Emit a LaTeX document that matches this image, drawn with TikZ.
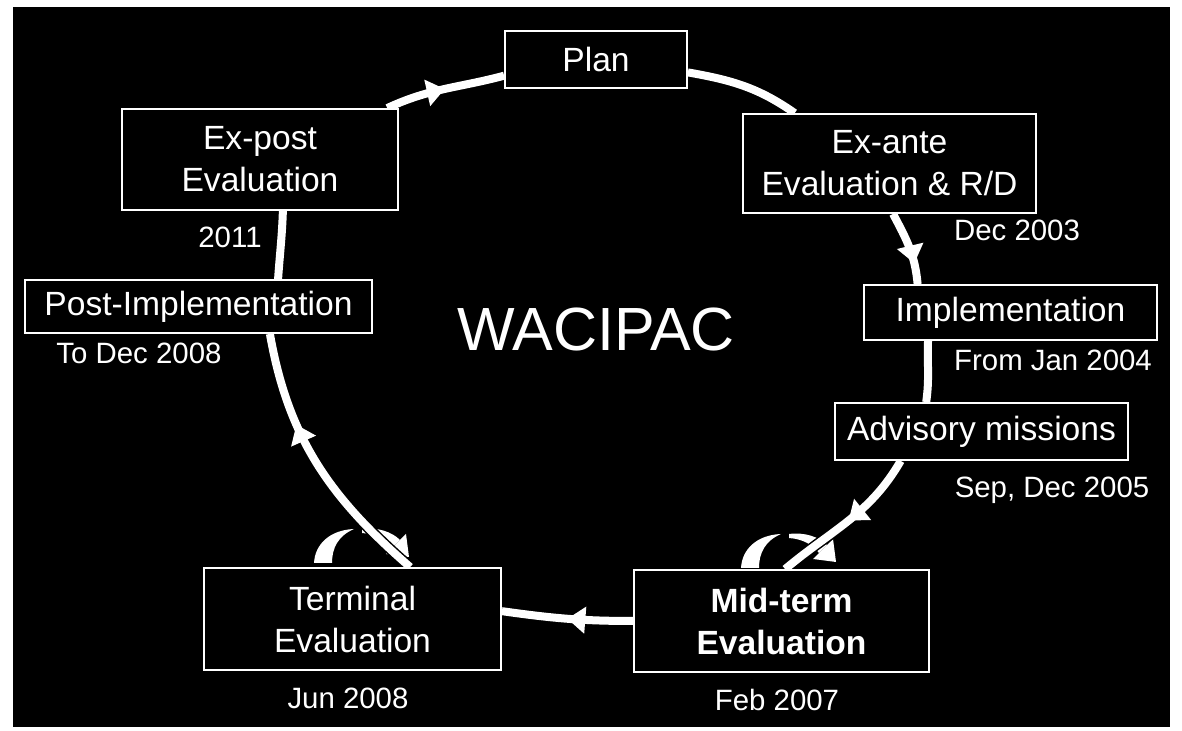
\documentclass[tikz,border=0pt]{standalone}
\usepackage{fontspec}
\setmainfont{Liberation Sans}
\usetikzlibrary{positioning, arrows.meta, decorations.markings}
\pgfdeclarelayer{back}
\pgfsetlayers{back,main}

\begin{document}
\begin{tikzpicture}[x=0.5pt, y=0.5pt,
      box/.style={draw=white, line width=0.9pt, fill=black, text=white,
                  align=center, inner sep=0pt,
                  font=\fontsize{16.8}{21}\selectfont},
      stamp/.style={text=white, inner sep=0pt,
                  font=\fontsize{14.7}{17}\selectfont},
      ring/.style={white, line width=4pt,
                  preaction={draw=black, line width=5.5pt}},
      tip at/.style={postaction={decorate}, decoration={markings,
                  mark=at position #1 with {\arrow{Triangle[length=9pt, width=13pt]}}}}]
    \useasboundingbox (0,0) rectangle (1182,731);

    % the stages
    \node[box, minimum width=91pt, minimum height=28.5pt]    (plan)   at (596,671.5)  {Plan};
    \node[box, minimum width=146.5pt, minimum height=49.5pt] (exante) at (889.5,567.5) {Ex-ante\\Evaluation \& R/D};
    \node[box, minimum width=146.5pt, minimum height=27.5pt] (impl)   at (1010.5,418.5) {Implementation};
    \node[box, minimum width=146.5pt, minimum height=28.5pt] (adv)    at (981.5,299.5) {Advisory missions};
    \node[box, minimum width=147.5pt, minimum height=51pt,
          font=\fontsize{16.8}{21}\selectfont\bfseries]      (mid)    at (781.5,110)  {Mid-term\\Evaluation};
    \node[box, minimum width=148.5pt, minimum height=51pt]   (term)   at (352.5,112)  {Terminal\\Evaluation};
    \node[box, minimum width=173.5pt, minimum height=26.5pt] (post)   at (198.5,424.5) {Post-Implementation};
    \node[box, minimum width=138pt, minimum height=50.5pt]   (expost) at (260,571.5)  {Ex-post\\Evaluation};

    % dates
    \node[stamp] (d2003)  at (1017,501) {Dec 2003};
    \node[stamp] (d2004)  at (1053,371) {From Jan 2004};
    \node[stamp] (d2005)  at (1052,241) {Sep, Dec 2005};
    \node[stamp] (d2007)  at (777,31)   {Feb 2007};
    \node[stamp] (d2008)  at (348,33)   {Jun 2008};
    \node[stamp] (dpost)  at (139,378)  {To Dec 2008};
    \node[stamp] (d2011)  at (230,494)  {2011};

    \node[text=white, inner sep=0pt, font=\fontsize{30.5}{33}\selectfont] (title) at (596,401) {WACIPAC};

    \begin{pgfonlayer}{back}
      \fill[white] (0,0) rectangle (1182,731);
      \fill[black] (13,4) rectangle (1170,724);
      % turning arrows
      \foreach \cx/\cy in {789/166, 362/171} {
        \begin{scope}[shift={(\cx,\cy)}]
          \fill[white] (-48,-3) .. controls (-47,16) and (-32,30) .. (-8,31)
                       .. controls (-24,24) and (-30,12) .. (-30,-3) -- cycle;
          \fill[white] (0,31) .. controls (16,33) and (30,28) .. (38,20)
                       -- (30,12) .. controls (24,20) and (14,26) .. (0,27) -- cycle;
          \fill[white] (44,26) -- (47,3) -- (24,6) -- cycle;
        \end{scope}
      }
      % the cycle
      \draw[ring]              (plan.-8)    to[out=-10, in=145] (exante.152);
      \draw[ring, tip at=0.72] (exante.-86) to[out=-62, in=95]  (impl.163);
      \draw[ring]              (impl.199)   to[out=-92, in=82]  (adv.152);
      \draw[ring, tip at=0.5]  (adv.200)    to[out=-120, in=40] (mid.86);
      \draw[ring, tip at=0.5]  (mid.180)    to[out=180, in=-8]  (term.3);
      \draw[ring, tip at=0.66] (term.42)    to[out=139, in=-80] (post.-21);
      \draw[ring]              (post.19)    to[out=86, in=-92]  (expost.-66);
      \draw[ring, tip at=0.5]  (expost.22)  to[out=25, in=-165] (plan.190);
    \end{pgfonlayer}
  \end{tikzpicture}
\end{document}
